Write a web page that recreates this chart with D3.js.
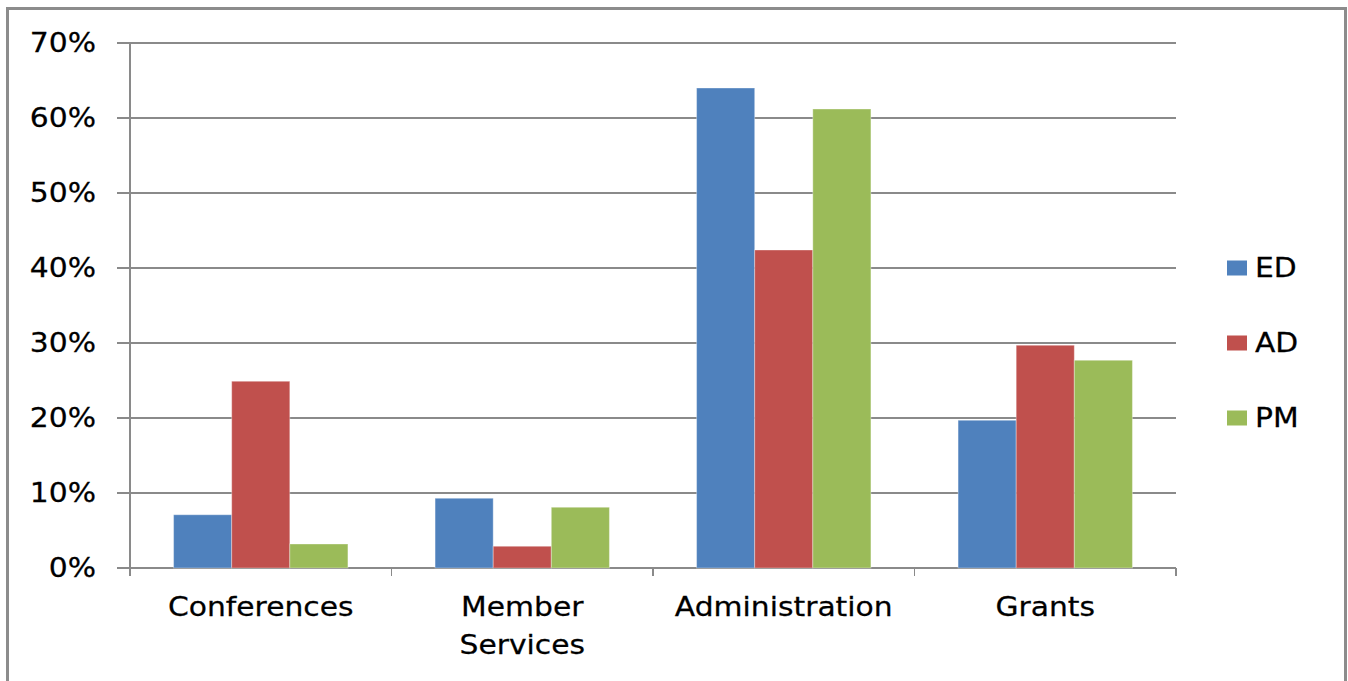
<!DOCTYPE html>
<html lang="en">
	<head>
		<meta charset="utf-8">
		<title>spend by area</title>
		<script src="https://cdn.jsdelivr.net/npm/d3@7/dist/d3.min.js"></script>
		<style type="text/css">
		body { margin: 0; background: #fff; }
		.grid line { stroke: #8a8a8a; stroke-width: 1.6; shape-rendering: crispEdges; }
		.lbl { font-family: "DejaVu Sans", sans-serif; font-size: 26px; fill: #000; stroke: #000; stroke-width: 0.25; }
		</style>
	</head>
	<body>
		<script type="text/javascript">
		// data
		var categories = ["Conferences", "Member Services", "Administration", "Grants"];
		var seriesNames = ["ED", "AD", "PM"];
		var ED = [0.071, 0.093, 0.640, 0.197];
		var AD = [0.249, 0.029, 0.424, 0.297];
		var PM = [0.032, 0.081, 0.612, 0.277];
		var yTicks = [0, 0.1, 0.2, 0.3, 0.4, 0.5, 0.6, 0.7];
		var colors = ["#4f81bd", "#c0504d", "#9bbb59"];

		var W = 1348, H = 681;
		var plot = {left: 130, right: 1176, top: 43, bottom: 568};
		var stretch = 1.145; // text in the picture is a bit wide

		var svg = d3.select("body").append("svg")
			.attr("width", W)
			.attr("height", H);

		// outer frame
		svg.append("rect")
			.attr("x", 7.5).attr("y", 8.5)
			.attr("width", 1338).attr("height", 700)
			.attr("fill", "none")
			.attr("stroke", "#8c8c8c")
			.attr("stroke-width", 3);

		var x = d3.scaleBand()
			.domain(categories)
			.range([plot.left, plot.right]);

		var gapFrac = 0.75 / 4.5;
		var xs = d3.scaleBand()
			.domain(seriesNames)
			.range([x.bandwidth() * gapFrac, x.bandwidth() * (1 - gapFrac)]);

		var y = d3.scaleLinear()
			.domain([0, 0.7])
			.range([plot.bottom, plot.top]);

		// gridlines + y ticks
		var grid = svg.append("g").attr("class", "grid");
		grid.selectAll("line")
			.data(yTicks)
			.enter().append("line")
			.attr("x1", plot.left - 13)
			.attr("x2", plot.right)
			.attr("y1", function(d){ return y(d); })
			.attr("y2", function(d){ return y(d); });

		// y axis line
		grid.append("line")
			.attr("x1", plot.left).attr("x2", plot.left)
			.attr("y1", plot.top).attr("y2", plot.bottom);

		// category ticks on the bottom
		var bounds = categories.map(function(c){ return x(c); }).concat([plot.right]);
		grid.selectAll(".xt")
			.data(bounds)
			.enter().append("line")
			.attr("class", "xt")
			.attr("x1", function(d){ return d; })
			.attr("x2", function(d){ return d; })
			.attr("y1", plot.bottom)
			.attr("y2", plot.bottom + 8);

		// y labels
		var fmt = d3.format(".0%");
		svg.selectAll(".ylab")
			.data(yTicks)
			.enter().append("text")
			.attr("class", "lbl ylab")
			.attr("text-anchor", "end")
			.attr("dy", "0.36em")
			.attr("transform", function(d){ return "translate(96," + y(d) + ") scale(" + stretch + ",1)"; })
			.text(fmt);

		// bars
		var series = [ED, AD, PM];
		series.forEach(function(vals, si){
			svg.append("g").selectAll("rect")
				.data(vals)
				.enter().append("rect")
				.attr("x", function(d, i){ return x(categories[i]) + xs(seriesNames[si]); })
				.attr("width", xs.bandwidth())
				.attr("y", function(d){ return y(d); })
				.attr("height", function(d){ return y(0) - y(d); })
				.attr("fill", colors[si])
				.attr("stroke", "rgba(255,255,255,0.35)")
				.attr("stroke-width", 1);
		});

		// category labels (Member Services wraps onto two lines)
		var catLines = {"Member Services": ["Member", "Services"]};
		categories.forEach(function(c){
			var lines = catLines[c] || [c];
			lines.forEach(function(t, li){
				svg.append("text")
					.attr("class", "lbl")
					.attr("text-anchor", "middle")
					.attr("dy", "0.36em")
					.attr("transform", "translate(" + (x(c) + x.bandwidth() / 2) + "," + (607 + li * 38) + ") scale(" + stretch + ",1)")
					.text(t);
			});
		});

		// legend
		var legend = svg.selectAll(".legend")
			.data(seriesNames)
			.enter().append("g")
			.attr("class", "legend")
			.attr("transform", function(d, i){ return "translate(1227," + (268 + i * 75) + ")"; });

		legend.append("rect")
			.attr("x", 0).attr("y", -7.5)
			.attr("width", 20).attr("height", 15)
			.attr("fill", function(d, i){ return colors[i]; });

		legend.append("text")
			.attr("class", "lbl")
			.attr("dy", "0.36em")
			.attr("transform", "translate(28,0) scale(" + stretch + ",1)")
			.text(function(d){ return d; });
		</script>
	</body>
</html>
